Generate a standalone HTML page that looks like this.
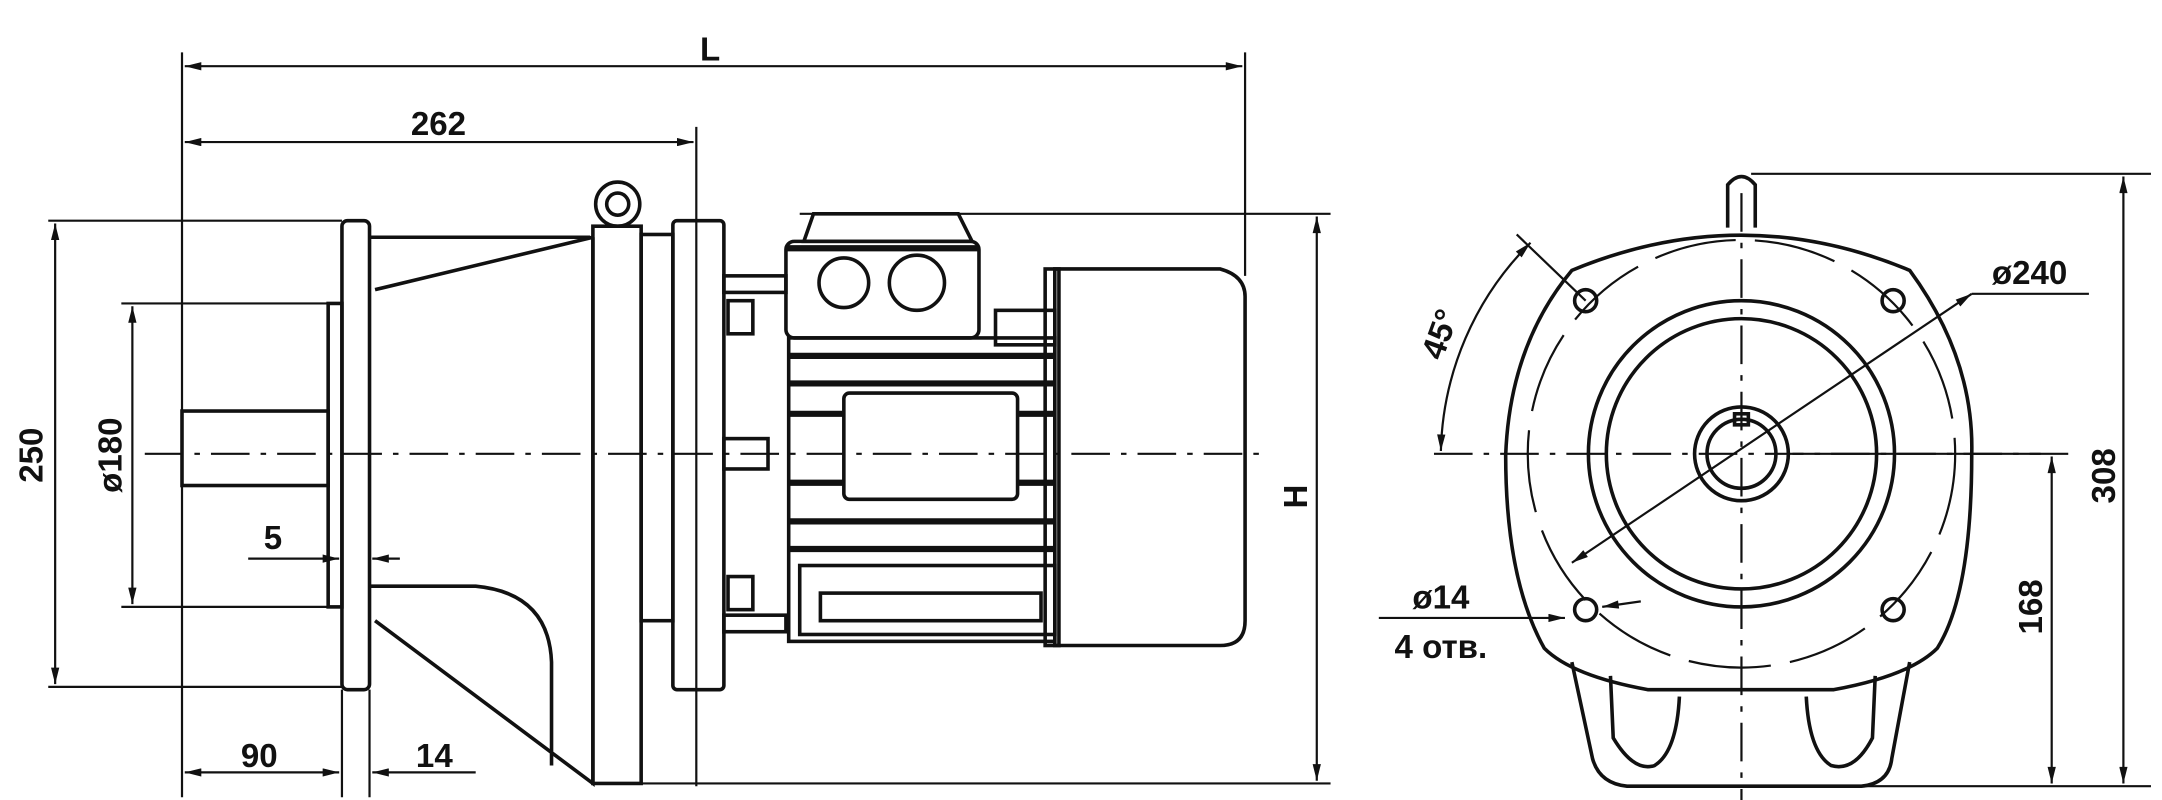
<!DOCTYPE html>
<html><head><meta charset="utf-8"><style>
html,body{margin:0;padding:0;background:#fff;}
svg{display:block}
text{font-family:"Liberation Sans",sans-serif;font-weight:bold;fill:#111;}
</style></head><body>
<svg width="2162" height="800" viewBox="0 0 1568 580" preserveAspectRatio="none" xmlns="http://www.w3.org/2000/svg">
<defs>
<marker id="a" viewBox="0 0 12 6" refX="12" refY="3" markerWidth="13" markerHeight="6" markerUnits="userSpaceOnUse" orient="auto-start-reverse"><path d="M0,0 L12,3 L0,6 Z" fill="#111"/></marker>
</defs>
<g stroke="#111" fill="none" stroke-width="1.6">
<line x1="132" y1="38" x2="132" y2="578"/>
<line x1="903" y1="38" x2="903" y2="200"/>
<line x1="505" y1="92" x2="505" y2="570"/>
<line x1="35" y1="160" x2="248" y2="160"/>
<line x1="35" y1="498" x2="248" y2="498"/>
<line x1="88" y1="220" x2="240" y2="220"/>
<line x1="88" y1="440" x2="240" y2="440"/>
<line x1="580" y1="155" x2="965" y2="155"/>
<line x1="430" y1="568" x2="965" y2="568"/>
<line x1="248" y1="500" x2="248" y2="578"/>
<line x1="268" y1="500" x2="268" y2="578"/>
<line x1="134" y1="48" x2="901" y2="48" marker-start="url(#a)" marker-end="url(#a)"/>
<line x1="134" y1="103" x2="503" y2="103" marker-start="url(#a)" marker-end="url(#a)"/>
<line x1="40" y1="162" x2="40" y2="496" marker-start="url(#a)" marker-end="url(#a)"/>
<line x1="96" y1="222" x2="96" y2="438" marker-start="url(#a)" marker-end="url(#a)"/>
<line x1="955" y1="157" x2="955" y2="566" marker-start="url(#a)" marker-end="url(#a)"/>
<line x1="134" y1="560" x2="246" y2="560" marker-start="url(#a)" marker-end="url(#a)"/>
<line x1="345" y1="560" x2="270" y2="560" marker-end="url(#a)"/>
<line x1="180" y1="405" x2="246" y2="405" marker-end="url(#a)"/>
<line x1="290" y1="405" x2="270" y2="405" marker-end="url(#a)"/>
<line x1="105" y1="329" x2="915" y2="329" stroke-dasharray="28,8,4,8"/>
</g>
<g stroke="#111" fill="none" stroke-width="2.6">
<rect x="132" y="298" width="106" height="54"/>
<rect x="238" y="220" width="10" height="220"/>
<rect x="248" y="160" width="20" height="340" rx="4"/>
<path d="M268,172 L428,172 M272,210 L430,172 M268,425 L345,425 Q398,430 400,480 L400,555 M272,450 L430,568 L430,172"/>
<circle cx="448" cy="148" r="16"/><circle cx="448" cy="148" r="8"/>
<rect x="430" y="164" width="35" height="404"/>
<rect x="465" y="170" width="23" height="280"/>
<rect x="488" y="160" width="37" height="340" rx="3"/>
<rect x="528" y="218" width="18" height="24"/><rect x="528" y="418" width="18" height="24"/>
<rect x="525" y="200" width="45" height="12"/><rect x="525" y="446" width="45" height="12"/>
<rect x="525" y="318" width="32" height="22"/>
<path d="M583,175 L590,155 L695,155 L705,175 Z"/>
<rect x="570" y="175" width="140" height="70" rx="6"/>
<circle cx="612" cy="205" r="18"/><circle cx="665" cy="205" r="20"/>
<rect x="722" y="225" width="43" height="25"/>
<rect x="572" y="245" width="193" height="220"/>
<rect x="612" y="285" width="126" height="77" rx="4"/>
<rect x="580" y="410" width="185" height="50"/>
<rect x="595" y="430" width="160" height="20"/>
<path d="M765,195 L885,195 Q903,200 903,215 L903,450 Q903,468 885,468 L765,468 Z"/>
<rect x="758" y="195" width="10" height="273"/>
</g>
<g stroke="#111" stroke-width="4.5">
<line x1="572" y1="258" x2="765" y2="258"/><line x1="572" y1="278" x2="765" y2="278"/>
<line x1="572" y1="300" x2="612" y2="300"/><line x1="738" y1="300" x2="765" y2="300"/>
<line x1="572" y1="350" x2="612" y2="350"/><line x1="738" y1="350" x2="765" y2="350"/>
<line x1="572" y1="378" x2="765" y2="378"/><line x1="572" y1="398" x2="765" y2="398"/>
<line x1="570" y1="180" x2="710" y2="180"/>
</g>
<g stroke="#111" fill="none" stroke-width="1.6">
<line x1="1270" y1="126" x2="1560" y2="126"/>
<line x1="1270" y1="570" x2="1560" y2="570"/>
<line x1="1300" y1="329" x2="1500" y2="329"/>
<line x1="1540" y1="128" x2="1540" y2="568" marker-start="url(#a)" marker-end="url(#a)"/>
<line x1="1488" y1="331" x2="1488" y2="568" marker-start="url(#a)" marker-end="url(#a)"/>
<line x1="1040" y1="329" x2="1480" y2="329" stroke-dasharray="28,8,4,8"/>
<line x1="1263" y1="140" x2="1263" y2="580" stroke-dasharray="28,8,4,8"/>
<circle cx="1263" cy="329" r="155" stroke-dasharray="60,14"/>
<path d="M1045,327 A220,220 0 0 1 1110,176" marker-start="url(#a)" marker-end="url(#a)"/>
<line x1="1100" y1="170" x2="1150" y2="218"/>
<line x1="1515" y1="213" x2="1430" y2="213"/>
<line x1="1430" y1="213" x2="1140" y2="408" marker-start="url(#a)" marker-end="url(#a)"/>
<line x1="1000" y1="448" x2="1135" y2="448" marker-end="url(#a)"/>
<line x1="1190" y1="436" x2="1162" y2="440" marker-end="url(#a)"/>
</g>
<g stroke="#111" fill="none" stroke-width="2.6">
<path d="M1253,165 L1253,134 Q1263,122 1273,134 L1273,165"/>
<path d="M1140,196 Q1263,145 1385,196 Q1432,260 1430,330 Q1430,430 1405,470 Q1385,490 1330,500 L1195,500 Q1140,490 1120,470 Q1092,420 1092,330 Q1095,250 1140,196 Z"/>
<path d="M1140,480 L1155,550 Q1160,568 1180,570 L1350,570 Q1370,568 1372,550 L1385,480"/>
<path d="M1168,490 L1170,535 Q1185,560 1200,555 Q1216,545 1218,505"/>
<path d="M1310,505 Q1312,545 1328,555 Q1345,560 1358,535 L1360,490"/>
<circle cx="1263" cy="329" r="111"/><circle cx="1263" cy="329" r="98"/>
<circle cx="1263" cy="329" r="34"/><circle cx="1263" cy="329" r="25"/>
<rect x="1258" y="300" width="10" height="8"/>
<circle cx="1150" cy="218" r="8"/><circle cx="1373" cy="218" r="8"/>
<circle cx="1150" cy="442" r="8"/><circle cx="1373" cy="442" r="8"/>
</g>
<g font-size="24">
<text x="515" y="44" text-anchor="middle">L</text>
<text x="318" y="98" text-anchor="middle">262</text>
<text x="198" y="398" text-anchor="middle">5</text>
<text x="188" y="556" text-anchor="middle">90</text>
<text x="315" y="556" text-anchor="middle">14</text>
<text transform="translate(31,330) rotate(-90)" text-anchor="middle">250</text>
<text transform="translate(88,330) rotate(-90)" text-anchor="middle">ø180</text>
<text transform="translate(948,360) rotate(-90)" text-anchor="middle">H</text>
<text transform="translate(1052,245) rotate(-70)" text-anchor="middle">45°</text>
<text x="1472" y="206" text-anchor="middle">ø240</text>
<text x="1045" y="441" text-anchor="middle">ø14</text>
<text x="1045" y="477" text-anchor="middle">4 отв.</text>
<text transform="translate(1534,345) rotate(-90)" text-anchor="middle">308</text>
<text transform="translate(1481,440) rotate(-90)" text-anchor="middle">168</text>
</g>
</svg>
</body></html>
